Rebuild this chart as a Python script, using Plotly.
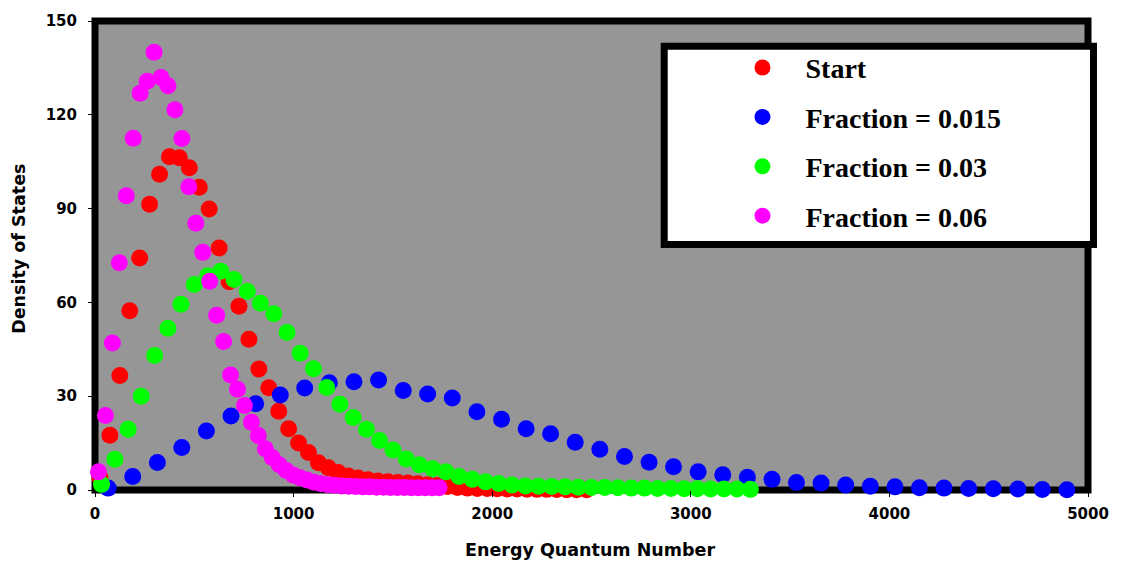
import plotly.graph_objects as go

# ---------------- data ----------------
series_names = ["Start", "Fraction = 0.015", "Fraction = 0.03", "Fraction = 0.06"]
series_colors = ["#FF0000", "#0000FF", "#00FF00", "#FF00FF"]

start_x = [25, 75, 125, 175, 225, 275, 325, 375, 425, 475, 525, 575, 625, 675, 725,
           775, 825, 875, 925, 975, 1025, 1075, 1125, 1175, 1225, 1275, 1325, 1375,
           1425, 1475, 1525, 1575, 1625, 1675, 1725, 1775, 1825, 1875, 1925, 1975,
           2025, 2075, 2125, 2175, 2225, 2275, 2325, 2375, 2425, 2475]
start_y = [4.0, 17.5, 36.6, 57.3, 74.2, 91.4, 101.0, 106.6, 106.3, 103.1, 96.8, 89.9,
           77.4, 66.6, 58.8, 48.2, 38.7, 32.7, 25.2, 19.6, 15.0, 12.0, 8.7, 7.1, 5.6,
           4.5, 3.8, 3.3, 2.9, 2.6, 2.4, 2.2, 2.0, 1.7, 1.4, 1.1, 0.8, 0.6, 0.5, 0.45,
           0.4, 0.35, 0.3, 0.25, 0.2, 0.2, 0.15, 0.1, 0.1, 0.1]

f015_x = [66, 190, 314, 437, 561, 685, 809, 933, 1056, 1180, 1304, 1428, 1552, 1675,
          1799, 1923, 2047, 2171, 2294, 2418, 2542, 2666, 2790, 2913, 3037, 3161,
          3285, 3409, 3532, 3656, 3780, 3904, 4028, 4151, 4275, 4399, 4523, 4647,
          4770, 4894]
f015_y = [0.6, 4.3, 8.8, 13.6, 18.9, 23.7, 27.6, 30.4, 32.6, 34.3, 34.6, 35.2, 31.8,
          30.7, 29.4, 25.0, 22.6, 19.6, 18.0, 15.3, 13.0, 10.7, 8.9, 7.4, 5.8, 4.9,
          4.1, 3.4, 2.4, 2.2, 1.6, 1.2, 1.0, 0.7, 0.6, 0.5, 0.4, 0.3, 0.15, 0.05]

f03_x = [33, 100, 167, 233, 300, 367, 433, 500, 567, 633, 700, 767, 833, 900, 967,
         1033, 1100, 1167, 1233, 1300, 1367, 1433, 1500, 1567, 1633, 1700, 1767, 1833,
         1900, 1967, 2033, 2100, 2167, 2233, 2300, 2367, 2433, 2500, 2567, 2633, 2700,
         2767, 2833, 2900, 2967, 3033, 3100, 3167, 3233, 3300]
f03_y = [1.8, 9.8, 19.4, 30.0, 43.0, 51.7, 59.4, 65.7, 68.5, 70.0, 67.3, 63.6, 59.7,
         56.4, 50.4, 43.7, 38.8, 32.8, 27.4, 23.2, 19.4, 15.8, 12.8, 9.9, 8.1, 6.8,
         5.8, 4.3, 3.4, 2.6, 2.1, 1.6, 1.3, 1.2, 1.1, 1.0, 0.9, 0.8, 0.8, 0.7, 0.6,
         0.6, 0.5, 0.5, 0.4, 0.4, 0.3, 0.3, 0.3, 0.2]

f06_x = [17.5, 52.5, 87.5, 122.5, 157.5, 192.5, 227.5, 262.5, 297.5, 332.5, 367.5,
         402.5, 437.5, 472.5, 507.5, 542.5, 577.5, 612.5, 647.5, 682.5, 717.5, 752.5,
         787.5, 822.5, 857.5, 892.5, 927.5, 962.5, 997.5, 1032.5, 1067.5, 1102.5,
         1137.5, 1172.5, 1207.5, 1242.5, 1277.5, 1312.5, 1347.5, 1382.5, 1417.5,
         1452.5, 1487.5, 1522.5, 1557.5, 1592.5, 1627.5, 1662.5, 1697.5, 1732.5]
f06_y = [5.8, 23.8, 47.0, 72.7, 94.1, 112.5, 126.9, 130.7, 140.0, 131.9, 129.3, 121.6,
         112.4, 97.0, 85.3, 76.0, 66.8, 55.9, 47.5, 36.8, 32.2, 27.0, 21.7, 17.4, 13.2,
         10.4, 8.1, 6.2, 4.8, 3.9, 3.2, 2.5, 2.0, 1.7, 1.5, 1.3, 1.2, 1.1, 1.0, 1.0,
         0.9, 0.9, 0.8, 0.8, 0.8, 0.7, 0.7, 0.7, 0.7, 0.7]

x_ticks = [0, 1000, 2000, 3000, 4000, 5000]
y_ticks = [0, 30, 60, 90, 120, 150]
x_title = "Energy Quantum Number"
y_title = "Density of States"

# ---------------- layout constants ----------------
W, H = 1121, 563
ML, MR, MT, MB = 95, 29, 17, 73
PW, PH = W - ML - MR, H - MT - MB

def px_to_paper_x(px):
    return (px - ML) / PW

def px_to_paper_y(py):
    return (H - MB - py) / PH

AX_FONT = dict(family="DejaVu Sans", size=15, color="black", weight="bold")
TITLE_FONT = dict(family="DejaVu Sans", size=17.5, color="black", weight="bold")

fig = go.Figure()
all_x = [start_x, f015_x, f03_x, f06_x]
all_y = [start_y, f015_y, f03_y, f06_y]
for i, (name, col, xs, ys) in enumerate(zip(series_names, series_colors, all_x, all_y)):
    fig.add_trace(go.Scatter(
        x=xs, y=ys, mode="markers", name=name, legendgroup=f"g{i}",
        marker=dict(color=col, size=17, line=dict(width=0)),
        cliponaxis=False,
    ))

fig.update_layout(
    width=W, height=H,
    margin=dict(l=ML, r=MR, t=MT, b=MB, pad=0),
    paper_bgcolor="white",
    plot_bgcolor="#969696",
    showlegend=True,
    legend=dict(
        x=px_to_paper_x(722), y=px_to_paper_y(39), xanchor="left", yanchor="top",
        bgcolor="rgba(0,0,0,0)", borderwidth=0,
        font=dict(family="Liberation Serif", size=28, color="black", weight="bold"),
        itemwidth=76, tracegroupgap=10, itemsizing="trace",
    ),
    xaxis=dict(
        range=[0, 5000], tickvals=x_ticks, ticktext=[str(v) for v in x_ticks],
        showgrid=False, zeroline=False, showline=False,
        ticks="outside", ticklen=6, tickwidth=1, tickcolor="black",
        tickfont=AX_FONT, ticklabelstandoff=4,
    ),
    yaxis=dict(
        range=[0, 150], tickvals=y_ticks, ticktext=[str(v) for v in y_ticks],
        showgrid=False, zeroline=False, showline=False,
        ticks="outside", ticklen=6, tickwidth=1, tickcolor="black",
        tickfont=AX_FONT, ticklabelstandoff=8,
    ),
    shapes=[
        # plot frame
        dict(type="rect", xref="paper", yref="paper", x0=0, x1=1, y0=0, y1=1,
             line=dict(color="black", width=7), fillcolor="rgba(0,0,0,0)", layer="below"),
        # legend box
        dict(type="rect", xref="paper", yref="paper",
             x0=px_to_paper_x(666.5), x1=px_to_paper_x(1097.5),
             y0=px_to_paper_y(242.5), y1=px_to_paper_y(42.5),
             line=dict(color="black", width=7), fillcolor="white", layer="above"),
    ],
    annotations=[
        dict(text=y_title, xref="paper", yref="paper", x=px_to_paper_x(18.5),
             y=px_to_paper_y(247), textangle=-90, showarrow=False, font=TITLE_FONT,
             xanchor="center", yanchor="middle"),
        dict(text=x_title, xref="paper", yref="paper", x=px_to_paper_x(591.5),
             y=px_to_paper_y(551), showarrow=False, font=TITLE_FONT,
             xanchor="center", yanchor="middle"),
    ],
)

fig.write_html("out.html", config={"displayModeBar": False},
               post_script="document.body.style.margin='0px';")
